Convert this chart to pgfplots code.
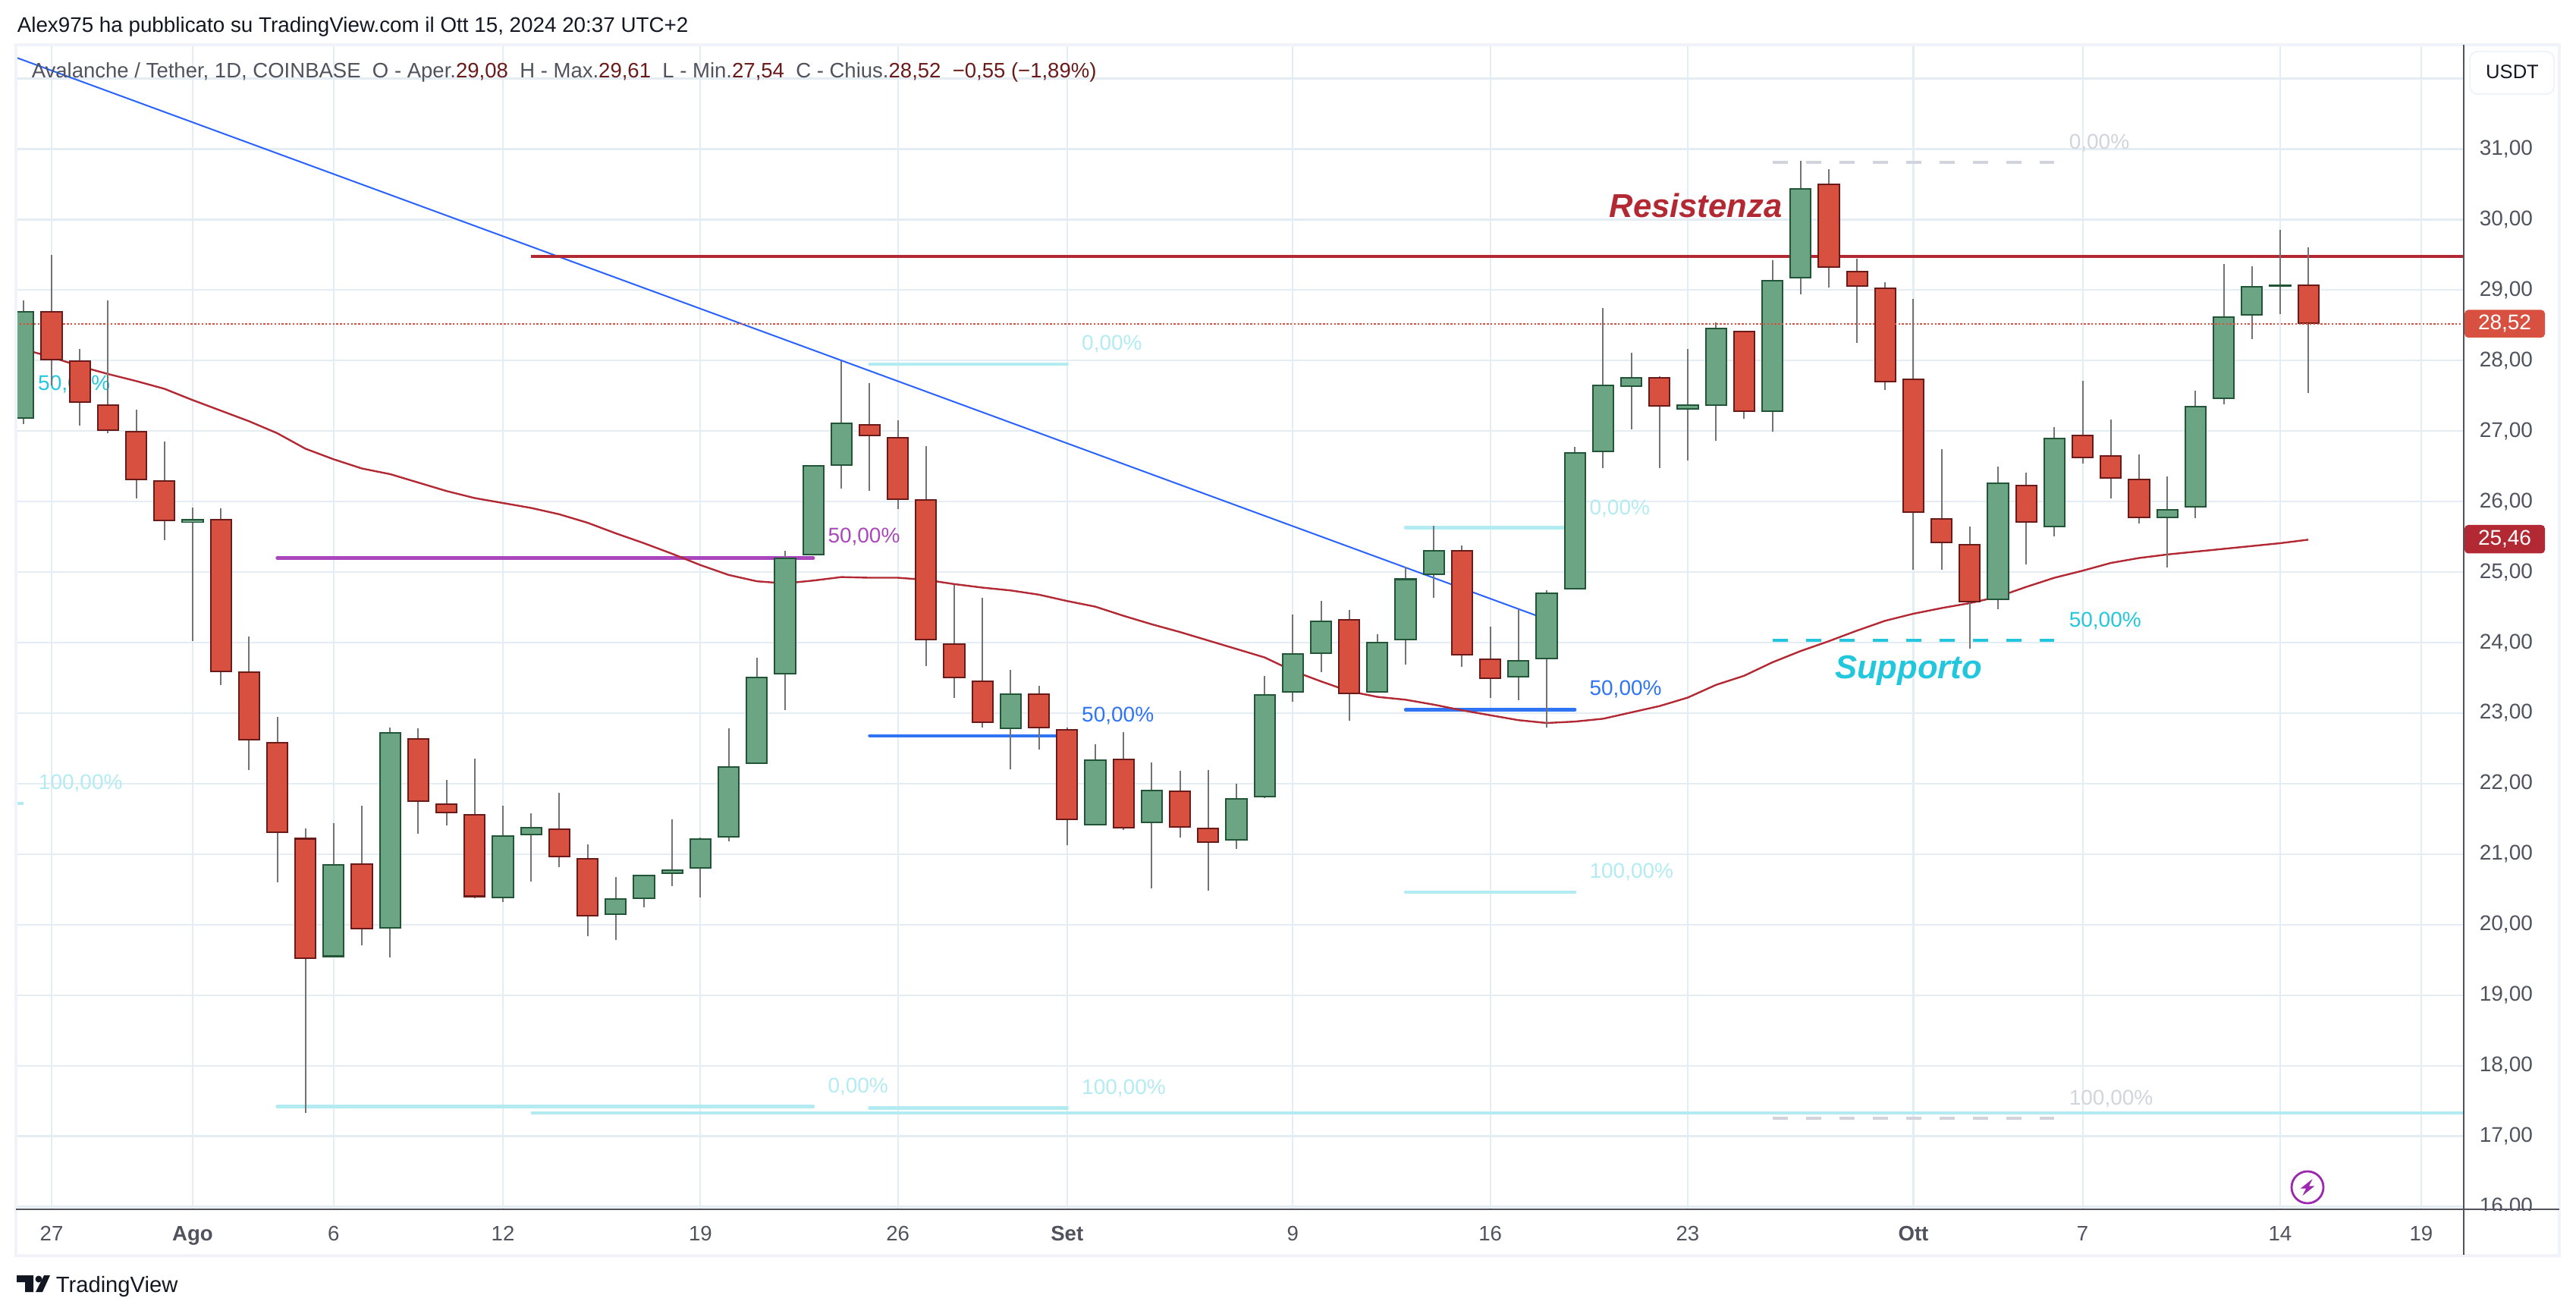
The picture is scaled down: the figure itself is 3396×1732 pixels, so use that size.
\documentclass[border=0pt]{standalone}
\usepackage{pgfplots}
\usepackage{pgfplotstable}
\usepackage{fontspec}
\setmainfont{Liberation Sans}
\pgfplotsset{compat=1.18}
\definecolor{gridc}{HTML}{E4EDF3}
\definecolor{framec}{HTML}{F0F3FA}
\definecolor{axc}{HTML}{50535E}
\definecolor{gfill}{HTML}{6BA583}
\definecolor{gdark}{HTML}{225437}
\definecolor{rfill}{HTML}{D85140}
\definecolor{rdark}{HTML}{6B1A1A}
\definecolor{wick}{HTML}{737373}
\definecolor{resc}{HTML}{B22833}
\definecolor{tblue}{HTML}{2962FF}
\definecolor{fblue}{HTML}{2E74F5}
\definecolor{lcyan}{HTML}{B2EBF2}
\definecolor{cyan2}{HTML}{22C7DD}
\definecolor{purp}{HTML}{AB47BC}
\definecolor{greyd}{HTML}{D1D4DC}
\definecolor{ink}{HTML}{131722}
\definecolor{lightn}{HTML}{9C27B0}
\pgfplotstableread{
d o h l c
-1 27.17 28.85 27.10 28.70
5 25.70 25.92 24.02 25.75
10 19.54 21.44 19.54 20.86
12 19.94 22.79 19.53 22.73
16 20.37 21.69 20.32 21.27
17 21.27 21.58 20.61 21.39
20 20.14 20.68 19.78 20.37
21 20.36 20.71 20.24 20.71
22 20.72 21.49 20.55 20.78
23 20.79 21.23 20.39 21.22
24 21.23 22.78 21.18 22.25
25 22.28 23.79 22.28 23.52
26 23.55 25.30 23.04 25.21
27 25.24 26.52 25.24 26.52
28 26.51 27.99 26.19 27.12
34 22.77 23.61 22.20 23.28
37 21.41 22.56 21.41 22.34
39 21.44 22.30 20.51 21.91
42 21.19 22.00 21.07 21.79
43 21.81 23.53 21.79 23.27
44 23.29 24.40 23.16 23.85
45 23.84 24.59 23.58 24.31
47 23.29 24.12 23.29 24.01
48 24.03 25.08 23.69 24.91
49 24.96 25.66 24.63 25.31
52 23.51 24.47 23.18 23.75
53 23.76 24.74 22.80 24.71
54 24.75 26.78 24.75 26.70
55 26.70 28.75 26.48 27.66
56 27.63 28.11 27.02 27.77
58 27.30 28.16 26.58 27.38
59 27.36 28.54 26.86 28.47
61 27.27 29.42 26.99 29.14
62 29.17 30.83 28.94 30.45
69 24.60 26.50 24.47 26.27
71 25.64 27.06 25.51 26.91
75 25.76 26.36 25.07 25.89
76 25.92 27.57 25.76 27.36
77 27.45 29.37 27.38 28.63
78 28.64 29.34 28.30 29.06
79 29.06 29.85 28.66 29.07
}\greentab
\pgfplotstableread{
d o h l c
0 28.70 29.50 27.65 28.00
1 28.00 28.16 27.08 27.40
2 27.38 28.85 26.97 27.00
3 27.00 27.30 26.05 26.30
4 26.30 26.85 25.45 25.72
6 25.75 25.90 23.40 23.58
7 23.59 24.09 22.19 22.61
8 22.59 22.95 20.60 21.30
9 21.23 21.36 17.33 19.51
11 20.87 21.69 19.71 19.93
13 22.64 22.78 21.29 21.74
14 21.72 22.05 21.41 21.58
15 21.57 22.35 20.37 20.39
18 21.36 21.87 20.81 20.95
19 20.94 21.14 19.84 20.12
29 27.10 27.68 26.15 26.93
30 26.92 27.15 25.89 26.02
31 26.03 26.79 23.67 24.03
32 23.99 24.82 23.22 23.49
33 23.46 24.64 22.79 22.86
35 23.28 23.39 22.48 22.78
36 22.77 22.80 21.13 21.48
38 22.35 22.73 21.34 21.36
40 21.90 22.18 21.24 21.37
41 21.38 22.19 20.48 21.16
46 24.33 24.46 22.89 23.27
50 25.31 25.38 23.66 23.82
51 23.77 24.23 23.22 23.48
57 27.77 27.78 26.48 27.35
60 28.42 28.42 27.17 27.27
63 30.51 30.72 29.04 29.32
64 29.27 29.45 28.25 29.05
65 29.04 29.11 27.58 27.69
66 27.75 28.88 25.03 25.84
67 25.77 26.74 25.03 25.41
68 25.40 25.65 23.91 24.57
70 26.24 26.41 25.11 25.70
72 26.95 27.71 26.54 26.62
73 26.66 27.16 26.04 26.32
74 26.32 26.67 25.69 25.76
80 29.08 29.61 27.54 28.52
}\redtab
\pgfplotstableread{
d v
-1 28.16
0 28.05
1 27.92
2 27.81
3 27.71
4 27.60
5 27.44
6 27.29
7 27.14
8 26.97
9 26.75
10 26.60
11 26.47
12 26.39
13 26.27
14 26.15
15 26.05
16 25.98
17 25.91
18 25.82
19 25.70
20 25.55
21 25.41
22 25.26
23 25.10
24 24.96
25 24.87
26 24.84
27 24.88
28 24.93
29 24.92
30 24.92
31 24.89
32 24.83
33 24.78
34 24.74
35 24.68
36 24.59
37 24.51
38 24.38
39 24.26
40 24.15
41 24.03
42 23.91
43 23.79
44 23.60
45 23.45
46 23.31
47 23.23
48 23.19
49 23.12
50 23.04
51 22.97
52 22.90
53 22.86
54 22.88
55 22.92
56 23.01
57 23.10
58 23.22
59 23.40
60 23.53
61 23.72
62 23.88
63 24.02
64 24.17
65 24.31
66 24.41
67 24.49
68 24.56
69 24.65
70 24.79
71 24.92
72 25.02
73 25.13
74 25.20
75 25.25
76 25.29
77 25.33
78 25.37
79 25.41
80 25.46
}\ematab
\begin{document}
\begin{tikzpicture}[x=0.25pt,y=-0.25pt]
\path[use as bounding box] (0,0) rectangle (3396,1732);
\coordinate (A) at (21,1594);
\begin{axis}[
  at={(A)}, anchor=south west,
  scale only axis, width=806.75pt, height=383.75pt,
  xmin=-1.264, xmax=85.51, ymin=15.962, ymax=32.48,
  axis line style={draw=none},
  major tick length=0pt,
  grid=major,
  major grid style={color=gridc,line width=0.55pt},
  xtick={0,5,10,16,23,30,36,44,51,58,66,72,79,84},
  xticklabels={27,\textbf{Ago},6,12,19,26,\textbf{Set},9,16,23,\textbf{Ott},7,14,19},
  ytick={16,17,...,32},
  yticklabels={{16,00},{17,00},{18,00},{19,00},{20,00},{21,00},{22,00},{23,00},{24,00},{25,00},{26,00},{27,00},{28,00},{29,00},{30,00},{31,00},{}},
  yticklabel pos=right,
  x tick label style={font=\fontsize{6.9}{8}\selectfont,text=axc,inner sep=0pt,anchor=base,yshift=-10.4pt},
  y tick label style={font=\fontsize{7}{8}\selectfont,text=axc,inner sep=0pt,anchor=west,xshift=5pt},
]
% fib and drawing lines
\addplot[tblue,line width=0.5pt,forget plot] coordinates {(-1.264,32.30) (53,24.33)};
\addplot[resc,line width=1pt,forget plot] coordinates {(17,29.48) (85.51,29.48)};
\addplot[purp,line width=1.1pt,forget plot,line cap=round] coordinates {(8,25.20) (27,25.20)};
\addplot[lcyan,line width=1.1pt,forget plot,line cap=round] coordinates {(29,27.95) (36,27.95)};
\addplot[fblue,line width=1.1pt,forget plot,line cap=round] coordinates {(29,22.68) (36,22.68)};
\addplot[lcyan,line width=1.1pt,forget plot,line cap=round] coordinates {(29,17.40) (36,17.40)};
\addplot[lcyan,line width=1.1pt,forget plot,line cap=round] coordinates {(48,25.63) (54,25.63)};
\addplot[fblue,line width=1.1pt,forget plot,line cap=round] coordinates {(48,23.05) (54,23.05)};
\addplot[lcyan,line width=1.1pt,forget plot,line cap=round] coordinates {(48,20.46) (54,20.46)};
\addplot[lcyan,line width=1.1pt,forget plot,line cap=round] coordinates {(8,17.42) (27,17.42)};
\addplot[lcyan,line width=1.1pt,forget plot] coordinates {(17,17.33) (85.51,17.33)};
\addplot[lcyan,line width=1.1pt,forget plot] coordinates {(-1.264,21.72) (-1,21.72)};
\addplot[greyd,line width=1pt,dash pattern=on 5.2pt off 5.8pt,forget plot] coordinates {(61,30.81) (71,30.81)};
\addplot[cyan2,line width=1pt,dash pattern=on 5.2pt off 5.8pt,forget plot] coordinates {(61,24.03) (71,24.03)};
\addplot[greyd,line width=1pt,dash pattern=on 5.2pt off 5.8pt,forget plot] coordinates {(61,17.25) (71,17.25)};
% fib labels
\def\fl{\fontsize{7}{8}\selectfont}
\node[anchor=west,inner sep=0pt,text=cyan2,font=\fl] at (axis cs:-0.5,27.66) {50,00\%};
\node[anchor=west,inner sep=0pt,text=lcyan,font=\fl] at (axis cs:-0.48,22.0) {100,00\%};
\node[anchor=west,inner sep=0pt,text=purp,font=\fl] at (axis cs:27.5,25.50) {50,00\%};
\node[anchor=west,inner sep=0pt,text=lcyan,font=\fl] at (axis cs:27.5,17.70) {0,00\%};
\node[anchor=west,inner sep=0pt,text=lcyan,font=\fl] at (axis cs:36.5,28.23) {0,00\%};
\node[anchor=west,inner sep=0pt,text=fblue,font=\fl] at (axis cs:36.5,22.96) {50,00\%};
\node[anchor=west,inner sep=0pt,text=lcyan,font=\fl] at (axis cs:36.5,17.68) {100,00\%};
\node[anchor=west,inner sep=0pt,text=lcyan,font=\fl] at (axis cs:54.5,25.90) {0,00\%};
\node[anchor=west,inner sep=0pt,text=fblue,font=\fl] at (axis cs:54.5,23.34) {50,00\%};
\node[anchor=west,inner sep=0pt,text=lcyan,font=\fl] at (axis cs:54.5,20.75) {100,00\%};
\node[anchor=west,inner sep=0pt,text=greyd,font=\fl] at (axis cs:71.5,31.09) {0,00\%};
\node[anchor=west,inner sep=0pt,text=cyan2,font=\fl] at (axis cs:71.5,24.31) {50,00\%};
\node[anchor=west,inner sep=0pt,text=greyd,font=\fl] at (axis cs:71.5,17.53) {100,00\%};
\node[anchor=west,inner sep=0pt,text=resc,font=\fontsize{10.9}{12}\bfseries\itshape\selectfont] at (axis cs:55.2,30.2) {Resistenza};
\node[anchor=west,inner sep=0pt,text=cyan2,font=\fontsize{10.9}{12}\bfseries\itshape\selectfont] at (axis cs:63.2,23.6) {Supporto};
% EMA
\addplot[resc,line width=0.6pt,forget plot] table[x=d,y=v] {\ematab};
% wicks
\addplot[draw=none,no marks,forget plot,error bars/.cd,y dir=both,y explicit,error mark=none,error bar style={color=wick,line width=0.5pt}]
  table[x=d,y=c,y error plus expr=\thisrow{h}-\thisrow{c},y error minus expr=\thisrow{c}-\thisrow{l}] {\greentab};
\addplot[draw=none,no marks,forget plot,error bars/.cd,y dir=both,y explicit,error mark=none,error bar style={color=wick,line width=0.5pt}]
  table[x=d,y=c,y error plus expr=\thisrow{h}-\thisrow{c},y error minus expr=\thisrow{c}-\thisrow{l}] {\redtab};
% bodies: outline, then fill
\addplot[draw=none,no marks,forget plot,error bars/.cd,y dir=both,y explicit,error mark=none,error bar style={color=gdark,line width=7.3pt}]
  table[x=d,y expr={(\thisrow{o}+\thisrow{c})/2},y error expr={max(abs(\thisrow{c}-\thisrow{o})/2,0.016)}] {\greentab};
\addplot[draw=none,no marks,forget plot,error bars/.cd,y dir=both,y explicit,error mark=none,error bar style={color=gfill,line width=6.3pt}]
  table[x=d,y expr={(\thisrow{o}+\thisrow{c})/2},y error expr={max(abs(\thisrow{c}-\thisrow{o})/2-0.022,0)}] {\greentab};
\addplot[draw=none,no marks,forget plot,error bars/.cd,y dir=both,y explicit,error mark=none,error bar style={color=rdark,line width=7.3pt}]
  table[x=d,y expr={(\thisrow{o}+\thisrow{c})/2},y error expr={max(abs(\thisrow{c}-\thisrow{o})/2,0.016)}] {\redtab};
\addplot[draw=none,no marks,forget plot,error bars/.cd,y dir=both,y explicit,error mark=none,error bar style={color=rfill,line width=6.3pt}]
  table[x=d,y expr={(\thisrow{o}+\thisrow{c})/2},y error expr={max(abs(\thisrow{c}-\thisrow{o})/2-0.022,0)}] {\redtab};
% last price line
\addplot[rfill,line width=0.3pt,dash pattern=on 0.6pt off 0.6pt,forget plot] coordinates {(-1.264,28.52) (85.51,28.52)};
\end{axis}
% cover below axis at the price scale
\fill[white] (3250,1596) rectangle (3372,1653);
% frame
\draw[framec,line width=0.8pt] (21,59) -- (3374,59) -- (3374,1655) -- (21,1655) -- cycle;
\draw[axc,line width=0.6pt] (21,1594) -- (3374,1594);
\draw[axc,line width=0.6pt] (3248,59) -- (3248,1654);
% price tags
\fill[rfill,rounded corners=1.2pt] (3249,408.5) -- (3355,408.5) -- (3355,445) -- (3249,445) -- cycle;
\node[text=white,inner sep=0pt,font=\fontsize{7}{8}\selectfont] at (3302,427) {28,52};
\fill[resc,rounded corners=1.2pt] (3249,692) -- (3355,692) -- (3355,729.5) -- (3249,729.5) -- cycle;
\node[text=white,inner sep=0pt,font=\fontsize{7}{8}\selectfont] at (3302,711) {25,46};
% USDT button
\draw[framec,line width=0.5pt,fill=white,rounded corners=2.5pt] (3256,68) rectangle (3367,124);
\node[text=ink,inner sep=0pt,font=\fontsize{6.4}{8}\selectfont] at (3312,95) {USDT};
% header
\node[anchor=west,inner sep=0pt,text=ink,font=\fontsize{6.95}{8}\selectfont] at (22,35) {Alex975 ha pubblicato su TradingView.com il Ott 15, 2024 20:37 UTC+2};
\node[anchor=west,inner sep=0pt,text=axc,font=\fontsize{6.88}{8}\selectfont] at (41,95) {Avalanche / Tether, 1D, COINBASE\ \ O - Aper.\textcolor{rdark}{29,08}\ \ H - Max.\textcolor{rdark}{29,61}\ \ L - Min.\textcolor{rdark}{27,54}\ \ C - Chius.\textcolor{rdark}{28,52}\ \ \textcolor{rdark}{−0,55 (−1,89\%)}};
% lightning badge
\draw[lightn,line width=0.7pt,fill=white] (3042,1565) circle (21);
\fill[lightn] (3048.6,1554) -- (3032.6,1566.7) -- (3040,1566.7) -- (3035.4,1576) -- (3051.4,1563.3) -- (3044,1563.3) -- cycle;
% TradingView logo
\fill[ink] (22,1681) -- (44,1681) -- (44,1703) -- (33,1703) -- (33,1690) -- (22,1690) -- cycle;
\fill[ink] (51,1686) circle (4.5);
\fill[ink] (58,1681) -- (66,1681) -- (56,1703) -- (47,1703) -- cycle;
\node[anchor=west,inner sep=0pt,text=ink,font=\fontsize{7.3}{8}\selectfont] at (73,1696) {TradingView};
\end{tikzpicture}
\end{document}
